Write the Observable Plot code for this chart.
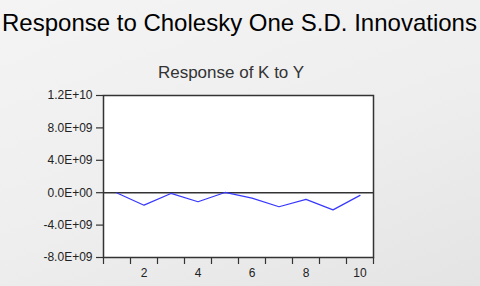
<!DOCTYPE html>
<html>
<head>
<meta charset="utf-8">
<script src="https://cdn.jsdelivr.net/npm/d3@7"></script>
<script src="https://cdn.jsdelivr.net/npm/@observablehq/plot@0.6"></script>
<style>
  html, body { margin: 0; padding: 0; }
  body { width: 480px; height: 286px; overflow: hidden; }
  #wrap {
    position: relative; width: 480px; height: 286px;
    background: linear-gradient(160deg, #f4f4f4 0%, #eeeeee 55%, #e4e4e4 100%);
    font-family: "Liberation Sans", Arial, sans-serif;
  }
  #title {
    position: absolute; left: 2px; top: 9px; white-space: nowrap;
    font-size: 24px; color: #000; line-height: 28px;
  }
  #subtitle {
    position: absolute; left: 0; width: 462px; top: 63px; text-align: center;
    font-size: 17px; color: #333; line-height: 20px; white-space: nowrap;
  }
  #chart { position: absolute; left: 0; top: 86px; }
</style>
</head>
<body>
<div id="wrap">
  <div id="title">Response to Cholesky One S.D. Innovations</div>
  <div id="subtitle">Response of K to Y</div>
  <div id="chart"></div>
</div>
<script>
const periods = [1, 2, 3, 4, 5, 6, 7, 8, 9, 10];
const response = [-0.03e9, -1.54e9, -0.09e9, -1.12e9, 0.03e9, -0.67e9, -1.73e9, -0.83e9, -2.12e9, -0.33e9];
const yTicks = [-8e9, -4e9, 0, 4e9, 8e9, 1.2e10];
const xTickMarks = [0.5, 1.5, 2.5, 3.5, 4.5, 5.5, 6.5, 7.5, 8.5, 9.5, 10.5];
const xTickLabels = [2, 4, 6, 8, 10];

const data = periods.map((p, i) => ({period: p, value: response[i]}));

function sci(v) {
  if (v === 0) return "0.0E+00";
  const s = v < 0 ? "-" : "";
  const a = Math.abs(v);
  let e = Math.floor(Math.log10(a) + 1e-9);
  let m = a / Math.pow(10, e);
  let ms = m.toFixed(1);
  if (ms === "10.0") { e += 1; ms = "1.0"; }
  return s + ms + "E+" + String(e).padStart(2, "0");
}

const chart = Plot.plot({
  width: 480,
  height: 200,
  marginTop: 9,
  marginBottom: 29,
  marginLeft: 103,
  marginRight: 107,
  style: {background: "transparent", fontFamily: "Liberation Sans, Arial, sans-serif", fontSize: "12px", color: "#222"},
  x: {domain: [0.5, 10.5]},
  y: {domain: [-8e9, 1.2e10]},
  marks: [
    Plot.frame({fill: "white", stroke: null}),
    Plot.ruleY([0], {stroke: "#333", strokeWidth: 1.6}),
    Plot.line(data, {x: "period", y: "value", stroke: "#3838ff", strokeWidth: 1.2}),
    Plot.frame({stroke: "#333", strokeWidth: 1.5}),
    Plot.axisY(yTicks, {tickSize: 7, tickPadding: 4, tickFormat: sci, stroke: "#333", strokeWidth: 1.2, fill: "#222", label: null}),
    Plot.axisX(xTickMarks, {tickSize: 7, tickFormat: () => "", stroke: "#333", strokeWidth: 1.2, label: null}),
    Plot.axisX(xTickLabels, {tickSize: 0, tickPadding: 11, fill: "#222", label: null})
  ]
});
document.getElementById("chart").appendChild(chart);
</script>
</body>
</html>
